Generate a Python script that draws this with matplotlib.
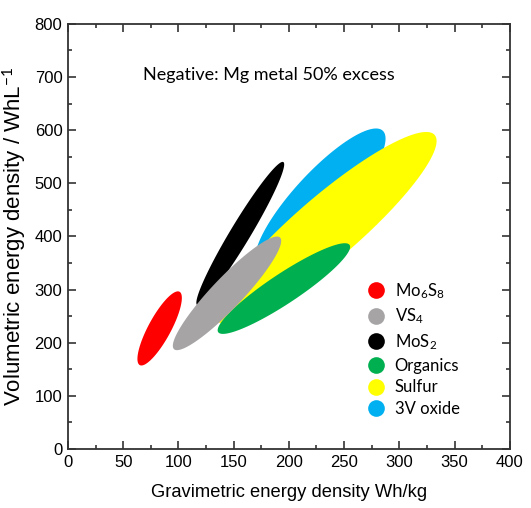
import numpy as np
import matplotlib
matplotlib.use("Agg")
import matplotlib.pyplot as plt
from matplotlib.lines import Line2D
from matplotlib.ticker import MultipleLocator

plt.rcParams['mathtext.fontset'] = 'custom'
plt.rcParams['mathtext.rm'] = 'Lato'
plt.rcParams['mathtext.it'] = 'Lato:italic'

# Data: each region is an ellipse given by its major-axis end points (data units)
# and a minor/major ratio in screen space.
materials = ["Mo$_6$S$_8$", "VS$_4$", "MoS$_2$", "Organics", "Sulfur", "3V oxide"]
colors = ["#ff0000", "#a6a4a4", "#000000", "#00b050", "#ffff00", "#00b0f0"]
x_low = [65, 96, 117, 136, 136, 172]
y_low = [158, 188, 271, 220, 240, 345]
x_high = [101, 192, 195, 255, 332, 285]
y_high = [296, 398, 540, 384, 591, 599]
ratio = [0.27, 0.20, 0.12, 0.19, 0.22, 0.28]
draw_order = [5, 4, 2, 3, 1, 0]

fig = plt.figure(figsize=(5.31, 5.08), dpi=100)
ax = fig.add_axes([0.128, 0.116, 0.832, 0.837])
ax.set_xlim(0, 400)
ax.set_ylim(0, 800)

t = np.linspace(0, 2 * np.pi, 300)
for i in draw_order:
    p1 = ax.transData.transform((x_low[i], y_low[i]))
    p2 = ax.transData.transform((x_high[i], y_high[i]))
    c = (p1 + p2) / 2
    d = p2 - p1
    a = np.hypot(*d) / 2
    b = a * ratio[i]
    ang = np.arctan2(d[1], d[0])
    u = np.array([np.cos(ang), np.sin(ang)])
    v = np.array([-np.sin(ang), np.cos(ang)])
    pts = c + np.outer(a * np.cos(t), u) + np.outer(b * np.sin(t), v)
    dpts = ax.transData.inverted().transform(pts)
    ax.fill(dpts[:, 0], dpts[:, 1], color=colors[i], lw=0, zorder=2)

ax.xaxis.set_major_locator(MultipleLocator(50))
ax.xaxis.set_minor_locator(MultipleLocator(25))
ax.yaxis.set_major_locator(MultipleLocator(100))
ax.yaxis.set_minor_locator(MultipleLocator(50))
ax.tick_params(which='both', direction='in', top=True, right=True, width=1.2, colors='#333333')
ax.tick_params(which='major', length=6, labelsize=12, labelcolor='black', pad=4)
ax.tick_params(which='minor', length=3)
for lbl in ax.get_xticklabels() + ax.get_yticklabels():
    lbl.set_family('Liberation Sans')
for s in ax.spines.values():
    s.set_linewidth(1.3)
    s.set_color('#333333')

ax.set_xlabel("Gravimetric energy density Wh/kg", fontsize=13.2, family='Liberation Sans', labelpad=10)
ax.set_ylabel("Volumetric energy density / WhL$^{-1}$", fontsize=16, family='Liberation Sans', labelpad=4)

ax.text(0.17, 0.88, "Negative: Mg metal 50% excess", transform=ax.transAxes, fontsize=13,
        family='Lato', va='center', ha='left')

handles = [Line2D([], [], ls='none', marker='o', markersize=12, markerfacecolor=c,
                  markeredgewidth=0) for c in colors]
leg = ax.legend(handles, materials, loc='upper left', bbox_to_anchor=(0.66, 0.415),
                frameon=False, prop={'family': 'Lato', 'size': 12}, handlelength=1.0,
                handletextpad=0.6, labelspacing=0.35, borderpad=0)

fig.savefig("out.png", dpi=100)
